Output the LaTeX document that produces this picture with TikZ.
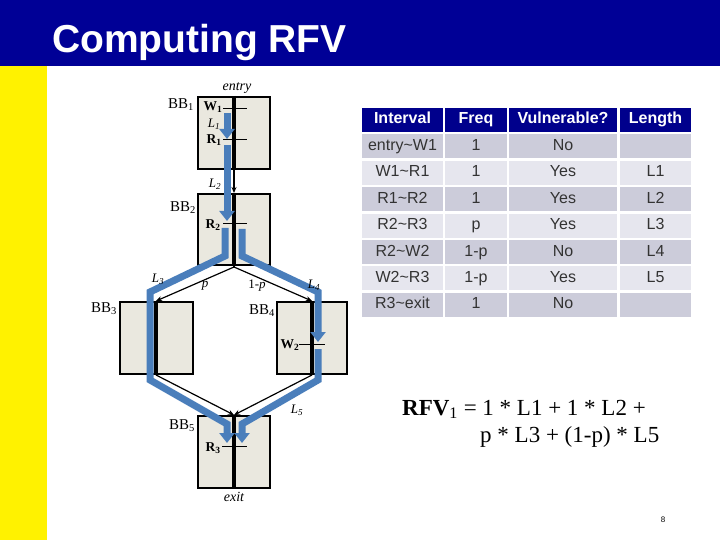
\documentclass[tikz,border=0pt]{standalone}
\usepackage{fontspec}
\setmainfont{Liberation Serif}
\newfontfamily\arial{Liberation Sans}
\usetikzlibrary{arrows.meta}
\definecolor{navy}{HTML}{000096}
\definecolor{hdr}{HTML}{00008C}
\definecolor{flow}{HTML}{4A7EBB}
\definecolor{boxfill}{HTML}{EAE8DF}
\definecolor{rowdark}{HTML}{CCCCDA}
\definecolor{rowlight}{HTML}{E6E6EE}
\newcommand\trow[7]{%
  \node[cell, fill=#2, #7, minimum width=81pt]  (r#1c1) at (402.5,{120+26.4*#1}) {#3};
  \node[cell, fill=#2, #7, minimum width=62pt]  (r#1c2) at (476,{120+26.4*#1}) {#4};
  \node[cell, fill=#2, #7, minimum width=108pt] (r#1c3) at (563,{120+26.4*#1}) {#5};
  \node[cell, fill=#2, #7, minimum width=71pt]  (r#1c4) at (655.5,{120+26.4*#1}) {#6};
}
\begin{document}
\begin{tikzpicture}[x=1pt,y=-1pt,
  bbox/.style={draw=black, line width=2pt, fill=boxfill, inner sep=0pt},
  spine/.style={line width=3.5pt},
  conn/.style={line width=1.2pt, -{Stealth[length=6pt,width=5pt]}},
  flowarrow/.style={draw=flow, line width=7pt, miter limit=10, -{Triangle[length=10pt,width=15pt]}},
  tickmark/.style={line width=1pt},
  bblbl/.style={inner sep=0pt, font=\fontsize{15}{15}\selectfont},
  rlbl/.style={inner sep=0pt, font=\bfseries\fontsize{13.5}{13.5}\selectfont},
  llbl/.style={inner sep=0pt, font=\itshape\fontsize{13}{13}\selectfont},
  elbl/.style={inner sep=0pt, font=\itshape\fontsize{14}{14}\selectfont},
  cell/.style={inner sep=0pt, minimum height=24pt, text height=11.5pt, text depth=3.5pt, text=black!80, font=\arial\fontsize{16}{16}\selectfont},
  hcell/.style={text=white, font=\arial\bfseries\fontsize{16}{16}\selectfont},
  dcell/.style={}
]
\useasboundingbox (0,0) rectangle (720,540);
\fill[white] (0,0) rectangle (720,540);
% title bar
\fill[navy] (0,0) rectangle (720,66);
\fill[yellow] (0,66) rectangle (47,540);
\node[anchor=base west, text=white, inner sep=0pt, font=\arial\bfseries\fontsize{39}{39}\selectfont] (title) at (52,53) {Computing RFV};

% boxes
\node[bbox, minimum width=72pt, minimum height=72pt] (bb1) at (234,133) {};
\node[bbox, minimum width=72pt, minimum height=71pt] (bb2) at (234,229.5) {};
\node[bbox, minimum width=73pt, minimum height=72pt] (bb3) at (156,338) {};
\node[bbox, minimum width=70pt, minimum height=72pt] (bb4) at (312,338) {};
\node[bbox, minimum width=72pt, minimum height=72pt] (bb5) at (234,452) {};

% spines
\foreach \b in {bb1,bb2,bb3,bb4,bb5} \draw[spine] (\b.north) -- (\b.south);

% connectors
\draw[conn] (bb1.south) -- (bb2.north);
\coordinate (split) at (234,267);
\draw[line width=1.2pt] (bb2.south) -- (split);
\draw[conn] (split) -- (bb3.north);
\draw[conn] (split) -- (bb4.north);
\draw[conn] (bb3.south) -- (bb5.north);
\draw[conn] (bb4.south) -- (bb5.north);

% ticks
\draw[tickmark] (223,109) -- (247,109);
\draw[tickmark] (223,140) -- (247,140);
\draw[tickmark] (223,224) -- (247,224);
\draw[tickmark] (299,344) -- (325,344);
\draw[tickmark] (222,446) -- (247,446);

% flow arrows
\draw[flowarrow] (227,113) -- (227,139);
\draw[flowarrow] (227,145) -- (227,221);
\draw[flowarrow] (225,228) -- (225,256) -- (150,292) -- (150,380) -- (227,424) -- (227,443);
\draw[flowarrow] (242,229) -- (242,256) -- (318,292) -- (318,342);
\draw[flowarrow] (318,349) -- (318,380) -- (242,424) -- (242,443);

% labels
\node[elbl] (entry) at (237,88) {entry};
\node[elbl] (exit) at (234,497) {exit};
\node[bblbl] (lbb1) at (181,105) {BB\textsubscript{1}};
\node[bblbl] (lbb2) at (183,208) {BB\textsubscript{2}};
\node[bblbl] (lbb3) at (104,309) {BB\textsubscript{3}};
\node[bblbl] (lbb4) at (262,311) {BB\textsubscript{4}};
\node[bblbl] (lbb5) at (182,426) {BB\textsubscript{5}};
\node[rlbl] (w1) at (213,107) {W\textsubscript{1}};
\node[rlbl] (r1) at (214,140) {R\textsubscript{1}};
\node[rlbl] (r2) at (213,225) {R\textsubscript{2}};
\node[rlbl] (w2) at (290,345) {W\textsubscript{2}};
\node[rlbl] (r3) at (213,448) {R\textsubscript{3}};
\node[llbl] (l1) at (214,124) {L\textsubscript{1}};
\node[llbl] (l2) at (215,184) {L\textsubscript{2}};
\node[llbl] (l3) at (158,279) {L\textsubscript{3}};
\node[llbl] (l4) at (314,285) {L\textsubscript{4}};
\node[llbl] (l5) at (297,410) {L\textsubscript{5}};
\node[llbl] (pp) at (205,286) {p};
\node[llbl] (qp) at (257,286) {\upshape 1-\itshape p};

% table
\trow{0}{hdr}{Interval}{Freq}{Vulnerable?}{Length}{hcell}
\trow{1}{rowdark}{entry\textasciitilde W1}{1}{No}{}{dcell}
\trow{2}{rowlight}{W1\textasciitilde R1}{1}{Yes}{L1}{dcell}
\trow{3}{rowdark}{R1\textasciitilde R2}{1}{Yes}{L2}{dcell}
\trow{4}{rowlight}{R2\textasciitilde R3}{p}{Yes}{L3}{dcell}
\trow{5}{rowdark}{R2\textasciitilde W2}{1-p}{No}{L4}{dcell}
\trow{6}{rowlight}{W2\textasciitilde R3}{1-p}{Yes}{L5}{dcell}
\trow{7}{rowdark}{R3\textasciitilde exit}{1}{No}{}{dcell}

% formula
\node[anchor=base west, inner sep=0pt, font=\fontsize{23}{23}\selectfont] (rfv1) at (402,415) {\textbf{RFV}\textsubscript{1} = 1 * L1 + 1 * L2 +};
\node[anchor=base west, inner sep=0pt, font=\fontsize{23}{23}\selectfont] (rfv2) at (480,442) {p * L3 + (1-p) * L5};

\node[inner sep=0pt, font=\arial\fontsize{8}{8}\selectfont] (pg) at (663,520) {8};
\end{tikzpicture}
\end{document}
